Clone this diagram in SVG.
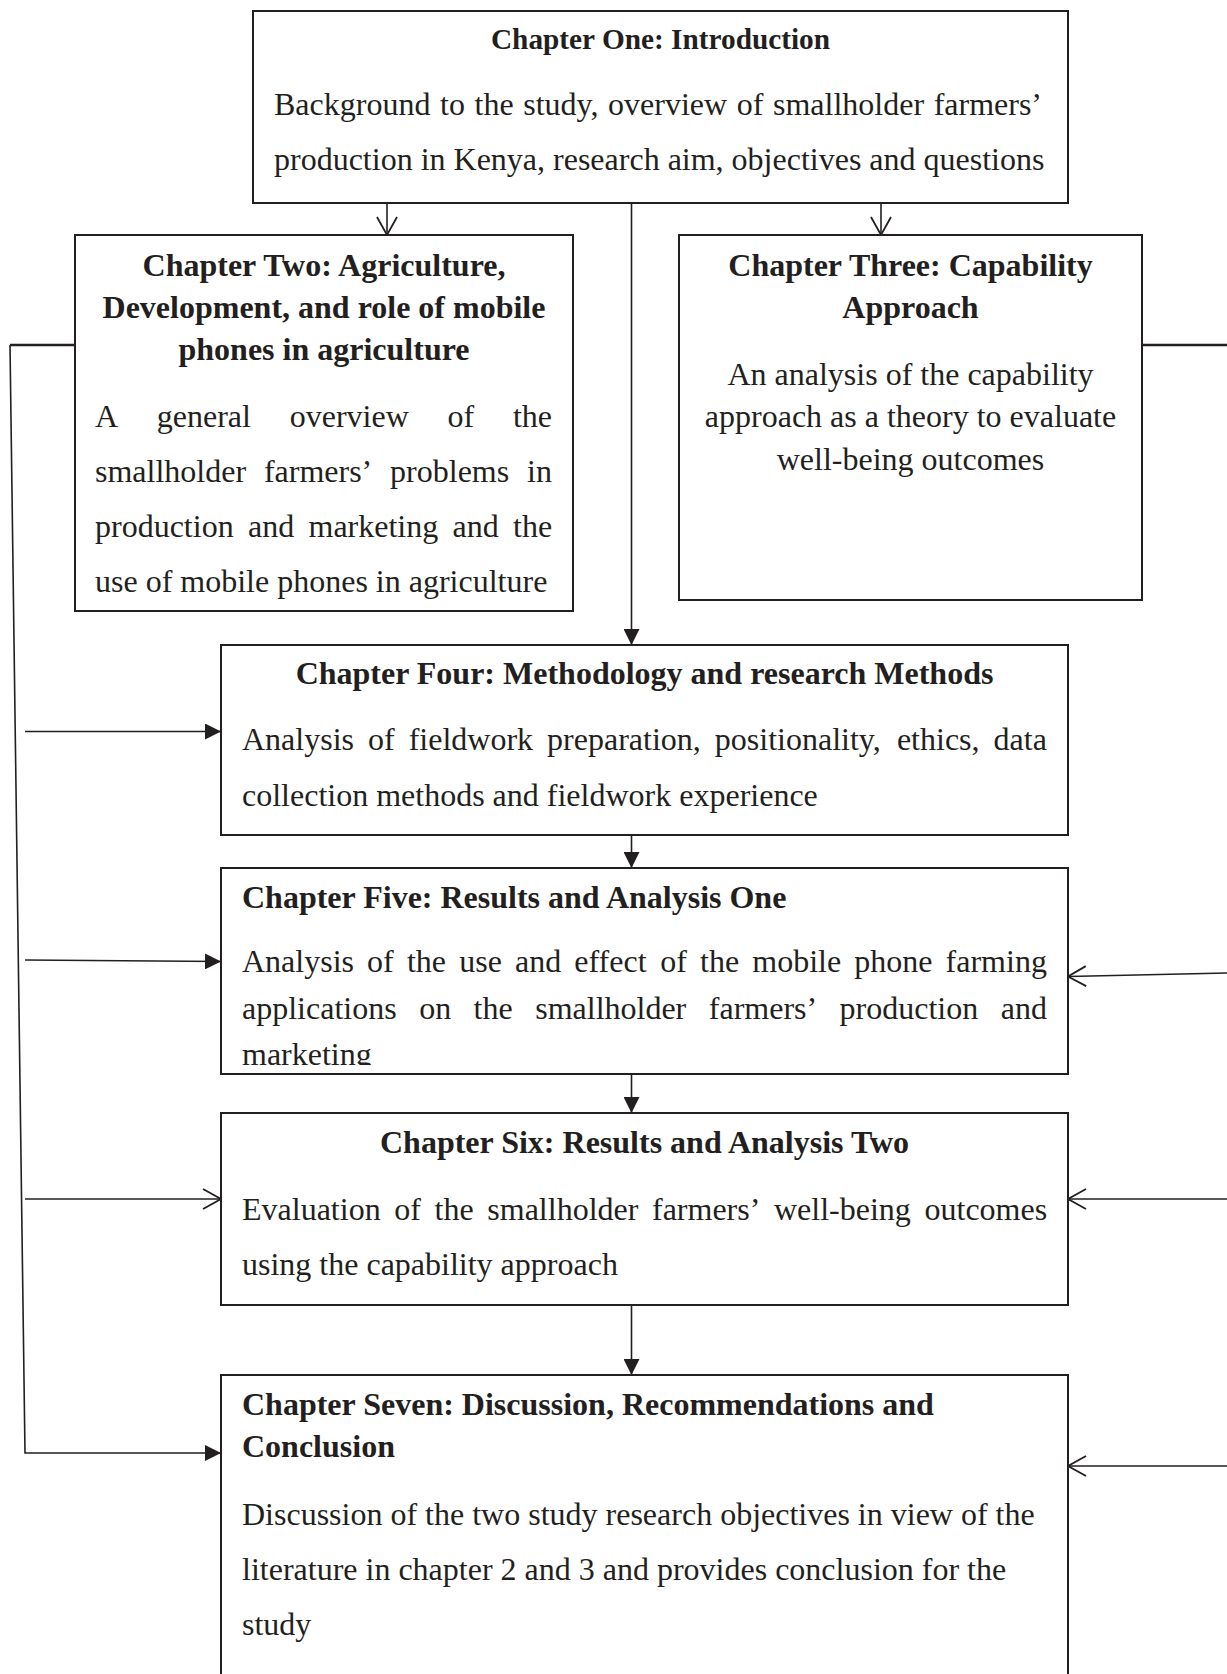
<svg xmlns="http://www.w3.org/2000/svg" width="1227" height="1674" viewBox="0 0 1227 1674">
<style>
  .box { fill: #ffffff; stroke: #231f20; stroke-width: 2; }
  .t { font-family: "Liberation Serif", "Times New Roman", serif; font-size: 32px; fill: #231f20; }
  .b { font-weight: bold; }
  .s29 { font-size: 29.3px; }
  .mid { text-anchor: middle; }
  .end { text-anchor: end; }
  .ln { fill: none; stroke: #231f20; stroke-width: 1.6; }
  .thick { stroke-width: 2.6; }
  .fa { marker-end: url(#filled); }
  .oa { marker-end: url(#open); }
</style>
<defs>
  <marker id="filled" markerUnits="userSpaceOnUse" viewBox="0 0 16 16" refX="16" refY="8" markerWidth="16" markerHeight="16" orient="auto">
    <path d="M0,0 L16,8 L0,16 z" fill="#231f20"/>
  </marker>
  <marker id="open" markerUnits="userSpaceOnUse" viewBox="-2 -2 22 24" refX="18" refY="10" markerWidth="22" markerHeight="24" orient="auto" overflow="visible">
    <path d="M0,0 L18,10 L0,20" fill="none" stroke="#231f20" stroke-width="1.8"/>
  </marker>
  <clipPath id="clip5">
    <rect x="221" y="868" width="847" height="197"/>
  </clipPath>
</defs>

<g id="connectors">
  <path class="ln oa" d="M387,203 V235"/>
  <path class="ln oa" d="M881,203 V235"/>
  <path class="ln fa" d="M631.5,203 V645"/>
  <path class="ln fa" d="M631.5,835 V868"/>
  <path class="ln fa" d="M631.5,1074 V1113"/>
  <path class="ln fa" d="M631.5,1305 V1375"/>
  <path class="ln thick" d="M75,345 H10"/>
  <path class="ln fa" d="M10,345 L25,1453 H221"/>
  <path class="ln fa" d="M25,731.5 H221"/>
  <path class="ln fa" d="M25,960 L221,961.5"/>
  <path class="ln oa" d="M25,1199 H221"/>
  <path class="ln thick" d="M1142,345 H1227"/>
  <path class="ln oa" d="M1227,973 L1068,976.5"/>
  <path class="ln oa" d="M1227,1199 H1068"/>
  <path class="ln oa" d="M1227,1466 H1068"/>
</g>

<g id="ch1">
  <rect class="box" x="253" y="11" width="815" height="192"/>
  <text class="t b s29 mid" x="660.5" y="49">Chapter One: Introduction</text>
  <text class="t" x="274" y="115" word-spacing="1.6">Background to the study, overview of smallholder farmers’</text>
  <text class="t" x="274" y="170">production in Kenya, research aim, objectives and questions</text>
</g>

<g id="ch2">
  <rect class="box" x="75" y="235" width="498" height="376"/>
  <text class="t b mid" x="324" y="276">Chapter Two: Agriculture,</text>
  <text class="t b mid" x="324" y="318">Development, and role of mobile</text>
  <text class="t b mid" x="324" y="360">phones in agriculture</text>
  <text class="t" y="427"><tspan x="95">A</tspan><tspan x="156.8">general</tspan><tspan x="289.7">overview</tspan><tspan x="447.5">of</tspan><tspan x="512.9">the</tspan></text>
  <text class="t" y="482"><tspan x="95">smallholder</tspan><tspan x="263.9">farmers’</tspan><tspan x="390.1">problems</tspan><tspan x="527">in</tspan></text>
  <text class="t" y="537"><tspan x="95">production</tspan><tspan x="248">and</tspan><tspan x="308.5">marketing</tspan><tspan x="452.6">and</tspan><tspan x="513.1">the</tspan></text>
  <text class="t" x="95" y="592">use of mobile phones in agriculture</text>
</g>

<g id="ch3">
  <rect class="box" x="679" y="235" width="463" height="365"/>
  <text class="t b mid" x="910.5" y="276">Chapter Three: Capability</text>
  <text class="t b mid" x="910.5" y="318">Approach</text>
  <text class="t mid" x="910.5" y="384.5">An analysis of the capability</text>
  <text class="t mid" x="910.5" y="427">approach as a theory to evaluate</text>
  <text class="t mid" x="910.5" y="469.5">well-being outcomes</text>
</g>

<g id="ch4">
  <rect class="box" x="221" y="645" width="847" height="190"/>
  <text class="t b mid" x="644.5" y="684">Chapter Four: Methodology and research Methods</text>
  <text class="t" y="750"><tspan x="242">Analysis</tspan><tspan x="368">of</tspan><tspan x="408.7">fieldwork</tspan><tspan x="547.1">preparation,</tspan><tspan x="714.8">positionality,</tspan><tspan x="896.9">ethics,</tspan><tspan x="993.6">data</tspan></text>
  <text class="t" x="242" y="806">collection methods and fieldwork experience</text>
</g>

<g id="ch5">
  <rect class="box" x="221" y="868" width="847" height="206"/>
  <text class="t b" x="242" y="907.5">Chapter Five: Results and Analysis One</text>
  <text class="t" y="972"><tspan x="242">Analysis</tspan><tspan x="367.1">of</tspan><tspan x="406.9">the</tspan><tspan x="459.2">use</tspan><tspan x="515">and</tspan><tspan x="574.3">effect</tspan><tspan x="660.2">of</tspan><tspan x="700">the</tspan><tspan x="752.3">mobile</tspan><tspan x="854.3">phone</tspan><tspan x="945.6">farming</tspan></text>
  <text class="t" y="1018.5"><tspan x="242">applications</tspan><tspan x="419.2">on</tspan><tspan x="473.6">the</tspan><tspan x="535.2">smallholder</tspan><tspan x="708.8">farmers’</tspan><tspan x="839.6">production</tspan><tspan x="1000.8">and</tspan></text>
  <text class="t" x="242" y="1065" clip-path="url(#clip5)">marketing</text>
</g>

<g id="ch6">
  <rect class="box" x="221" y="1113" width="847" height="192"/>
  <text class="t b mid" x="644.5" y="1152.5">Chapter Six: Results and Analysis Two</text>
  <text class="t" y="1220"><tspan x="242">Evaluation</tspan><tspan x="394.3">of</tspan><tspan x="434.6">the</tspan><tspan x="487.3">smallholder</tspan><tspan x="652">farmers’</tspan><tspan x="774">well-being</tspan><tspan x="924.5">outcomes</tspan></text>
  <text class="t" x="242" y="1275">using the capability approach</text>
</g>

<g id="ch7">
  <rect class="box" x="221" y="1375" width="847" height="320"/>
  <text class="t b" x="242" y="1415">Chapter Seven: Discussion, Recommendations and</text>
  <text class="t b" x="242" y="1457">Conclusion</text>
  <text class="t" x="242" y="1525">Discussion of the two study research objectives in view of the</text>
  <text class="t" x="242" y="1580">literature in chapter 2 and 3 and provides conclusion for the</text>
  <text class="t" x="242" y="1635">study</text>
</g>
</svg>
